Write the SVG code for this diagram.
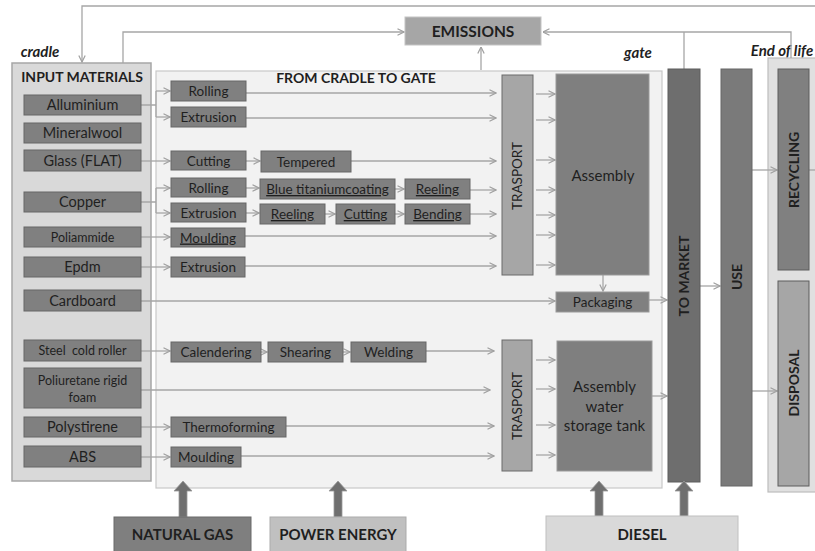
<svg xmlns="http://www.w3.org/2000/svg" width="815" height="551" viewBox="0 0 815 551">
<defs>
<marker id="ah" viewBox="0 0 8 8" refX="7.5" refY="4" markerWidth="8" markerHeight="8" markerUnits="userSpaceOnUse" orient="auto"><path d="M1,0.8 L7.5,4 L1,7.2" fill="none" stroke="#a0a0a0" stroke-width="1.2"/></marker>
</defs>
<style>
.t{font-family:Lato,"Open Sans","DejaVu Sans",sans-serif;fill:#1f1f1f;text-anchor:middle}
.b{font-weight:bold}
.i{font-style:italic;font-weight:bold;font-size:15px}
.m{font-size:14.5px}
.s{font-size:12.5px}
.p{font-size:13.5px}
.u{text-decoration:underline}
.box{fill:#808080;stroke:#666;stroke-width:1}
.c{fill:none;stroke:#a6a6a6;stroke-width:1.3}
.a{marker-end:url(#ah)}
.big{fill:#6f6f6f;stroke:#9a9a9a;stroke-width:0.8}
</style>
<rect width="815" height="551" fill="#fff"/>

<g id="labels">
<text class="t i" x="40" y="57">cradle</text>
<text class="t i" x="638" y="58">gate</text>
<text class="t i" x="782" y="56">End of life</text>
</g>

<g id="input-materials">
<rect x="12" y="63" width="139" height="418" fill="#d9d9d9" stroke="#a6a6a6" stroke-width="1.5"/>
<text class="t b" x="82" y="82" font-size="14">INPUT MATERIALS</text>
</g>
<g id="cradle-to-gate">
<rect x="156" y="71" width="506" height="417" fill="#f2f2f2" stroke="#c8c8c8" stroke-width="1.2"/>
<text class="t b" x="356" y="83" font-size="14">FROM CRADLE TO GATE</text>
</g>
<g id="end-of-life">
<rect x="768" y="58" width="60" height="434" fill="#e0e0e0" stroke="#bdbdbd" stroke-width="1.2"/>
</g>

<g id="connectors">
<path class="c a" d="M815,6 H82 V62"/>
<path class="c a" d="M123,63 V32 H404"/>
<path class="c a" d="M791,58 V32 H543"/>
<path class="c" d="M684,69 V32"/>
<path class="c a" d="M481,70 V47"/>

<path class="c" d="M141,105 H156 M156,91 V117"/>
<path class="c a" d="M156,91 H170"/>
<path class="c a" d="M156,117 H170"/>
<path class="c a" d="M246,93 H496"/>
<path class="c a" d="M246,118 H496"/>

<path class="c a" d="M141,161 H170"/>
<path class="c a" d="M246,161 H260"/>
<path class="c a" d="M351,161 H496"/>

<path class="c" d="M141,202 H156 M156,188 V213"/>
<path class="c a" d="M156,188 H170"/>
<path class="c a" d="M156,213 H170"/>
<path class="c a" d="M246,188 H259"/>
<path class="c a" d="M395,189 H404"/>
<path class="c a" d="M470,190 H496"/>
<path class="c a" d="M246,213 H259"/>
<path class="c a" d="M325,214 H335"/>
<path class="c a" d="M395,214 H404"/>
<path class="c a" d="M470,214 H496"/>

<path class="c a" d="M141,237 H170"/>
<path class="c a" d="M245,236 H496"/>
<path class="c a" d="M141,267 H170"/>
<path class="c a" d="M245,266 H496"/>

<path class="c a" d="M536,94 H555"/>
<path class="c a" d="M536,120 H555"/>
<path class="c a" d="M536,160 H555"/>
<path class="c a" d="M536,190 H555"/>
<path class="c a" d="M536,215 H555"/>
<path class="c a" d="M536,235 H555"/>
<path class="c a" d="M536,265 H555"/>

<path class="c a" d="M603,275 V291"/>
<path class="c a" d="M141,301 H555"/>
<path class="c a" d="M649,300 H667"/>

<path class="c a" d="M141,351 H170"/>
<path class="c a" d="M261,352 H267"/>
<path class="c a" d="M343,352 H350"/>
<path class="c a" d="M426,351 H494"/>
<path class="c a" d="M141,390 H490"/>
<path class="c a" d="M141,427 H170"/>
<path class="c a" d="M286,426 H494"/>
<path class="c a" d="M141,457 H170"/>
<path class="c a" d="M241,456 H494"/>

<path class="c a" d="M536,360 H555"/>
<path class="c a" d="M536,389 H555"/>
<path class="c a" d="M536,425 H555"/>
<path class="c a" d="M536,455 H555"/>
<path class="c a" d="M652,396 H667"/>

<path class="c a" d="M700,286 H720"/>
<path class="c a" d="M752,170 H777"/>
<path class="c a" d="M752,391 H777"/>
<path class="c" d="M809,170 H815"/>
</g>

<g id="emissions">
<rect x="405" y="17" width="136" height="28" fill="#a6a6a6" stroke="#c4c4c4"/>
<text class="t b" x="473" y="37" font-size="15.5">EMISSIONS</text>
</g>

<g id="m-alluminium"><rect class="box" x="24" y="95" width="117" height="20"/><text class="t m" x="82.5" y="110">Alluminium</text></g>
<g id="m-mineralwool"><rect class="box" x="24" y="123" width="117" height="20"/><text class="t m" x="82.5" y="138">Mineralwool</text></g>
<g id="m-glass"><rect class="box" x="24" y="150" width="117" height="21"/><text class="t m" x="82.5" y="165.5">Glass (FLAT)</text></g>
<g id="m-copper"><rect class="box" x="24" y="192" width="117" height="20"/><text class="t m" x="82.5" y="207">Copper</text></g>
<g id="m-poliammide"><rect class="box" x="24" y="227" width="117" height="20"/><text class="t s" x="82.5" y="241.5">Poliammide</text></g>
<g id="m-epdm"><rect class="box" x="24" y="257" width="117" height="20"/><text class="t m" x="82.5" y="272">Epdm</text></g>
<g id="m-cardboard"><rect class="box" x="24" y="290" width="117" height="21"/><text class="t m" x="82.5" y="305.5">Cardboard</text></g>
<g id="m-steel"><rect class="box" x="24" y="340" width="117" height="21"/><text class="t s" x="82.5" y="355" xml:space="preserve">Steel  cold roller</text></g>
<g id="m-poliuretane"><rect class="box" x="24" y="368" width="117" height="40"/><text class="t s" x="82.5" y="384.5">Poliuretane rigid</text><text class="t s" x="82.5" y="401.5">foam</text></g>
<g id="m-polystirene"><rect class="box" x="24" y="417" width="117" height="20"/><text class="t m" x="82.5" y="432">Polystirene</text></g>
<g id="m-abs"><rect class="box" x="24" y="446" width="117" height="21"/><text class="t m" x="82.5" y="461.5">ABS</text></g>

<g id="p-rolling1"><rect class="box" x="171" y="81" width="75" height="20"/><text class="t p" x="208.5" y="96">Rolling</text></g>
<g id="p-extrusion1"><rect class="box" x="171" y="107" width="75" height="20"/><text class="t p" x="208.5" y="122">Extrusion</text></g>
<g id="p-cutting1"><rect class="box" x="171" y="151" width="75" height="19"/><text class="t p" x="208.5" y="165.5">Cutting</text></g>
<g id="p-tempered"><rect class="box" x="261" y="151" width="90" height="21"/><text class="t p" x="306" y="166.5">Tempered</text></g>
<g id="p-rolling2"><rect class="box" x="171" y="178" width="75" height="19"/><text class="t p" x="208.5" y="192.5">Rolling</text></g>
<g id="p-blue"><rect class="box" x="260" y="179" width="135" height="20"/><text class="t p u" x="327.5" y="194">Blue titaniumcoating</text></g>
<g id="p-reeling1"><rect class="box" x="405" y="179" width="65" height="20"/><text class="t p u" x="437.5" y="194">Reeling</text></g>
<g id="p-extrusion2"><rect class="box" x="171" y="203" width="75" height="19"/><text class="t p" x="208.5" y="217.5">Extrusion</text></g>
<g id="p-reeling2"><rect class="box" x="260" y="204" width="65" height="20"/><text class="t p u" x="292.5" y="219">Reeling</text></g>
<g id="p-cutting2"><rect class="box" x="336" y="204" width="59" height="20"/><text class="t p u" x="365.5" y="219">Cutting</text></g>
<g id="p-bending"><rect class="box" x="405" y="204" width="65" height="20"/><text class="t p u" x="437.5" y="219">Bending</text></g>
<g id="p-moulding1"><rect class="box" x="171" y="228" width="74" height="19"/><text class="t p u" x="208" y="242.5">Moulding</text></g>
<g id="p-extrusion3"><rect class="box" x="171" y="257" width="74" height="20"/><text class="t p" x="208" y="272">Extrusion</text></g>
<g id="p-calendering"><rect class="box" x="171" y="342" width="90" height="20"/><text class="t p" x="216" y="357">Calendering</text></g>
<g id="p-shearing"><rect class="box" x="268" y="342" width="75" height="20"/><text class="t p" x="305.5" y="357">Shearing</text></g>
<g id="p-welding"><rect class="box" x="351" y="342" width="75" height="20"/><text class="t p" x="388.5" y="357">Welding</text></g>
<g id="p-thermoforming"><rect class="box" x="171" y="417" width="115" height="20"/><text class="t p" x="228.5" y="432">Thermoforming</text></g>
<g id="p-moulding2"><rect class="box" x="171" y="447" width="70" height="20"/><text class="t p" x="206" y="462">Moulding</text></g>

<g id="trasport1"><rect x="502" y="75" width="31" height="200" fill="#a6a6a6" stroke="#6a6a6a"/><text class="t" font-size="13.5" transform="translate(522,176) rotate(-90)">TRASPORT</text></g>
<g id="trasport2"><rect x="502" y="340" width="30" height="131" fill="#a6a6a6" stroke="#6a6a6a"/><text class="t" font-size="13.5" transform="translate(522,406) rotate(-90)">TRASPORT</text></g>
<g id="assembly"><rect x="556" y="74" width="93" height="201" fill="#7f7f7f" stroke="#9a9a9a"/><text class="t" font-size="15" x="603" y="181">Assembly</text></g>
<g id="packaging"><rect x="556" y="292" width="93" height="20" fill="#808080" stroke="#9a9a9a"/><text class="t p" x="602.5" y="307">Packaging</text></g>
<g id="assembly-tank"><rect x="557" y="341" width="95" height="130" fill="#7f7f7f" stroke="#9a9a9a"/><text class="t" font-size="15" x="604.5" y="392">Assembly</text><text class="t" font-size="15" x="604.5" y="412">water</text><text class="t" font-size="15" x="604.5" y="431">storage tank</text></g>

<g id="to-market"><rect x="668" y="69" width="32" height="413" fill="#6e6e6e" stroke="#5c5c5c"/><text class="t b" font-size="14" transform="translate(689,276) rotate(-90)">TO MARKET</text></g>
<g id="use"><rect x="721" y="69" width="31" height="417" fill="#7a7a7a" stroke="#666"/><text class="t b" font-size="14" transform="translate(741.5,277) rotate(-90)">USE</text></g>
<g id="recycling"><rect x="778" y="69" width="31" height="201" fill="#808080" stroke="#5c5c5c"/><text class="t b" font-size="14" transform="translate(798.5,170) rotate(-90)">RECYCLING</text></g>
<g id="disposal"><rect x="778" y="281" width="31" height="205" fill="#a6a6a6" stroke="#5c5c5c"/><text class="t b" font-size="14" transform="translate(798.5,383) rotate(-90)">DISPOSAL</text></g>

<g id="inputs-arrows">
<path class="big" d="M183,481 L192,491 L187,491 L187,517 L179,517 L179,491 L174,491 Z"/>
<path class="big" d="M338,481 L347,491 L342,491 L342,517 L334,517 L334,491 L329,491 Z"/>
<path class="big" d="M599,481 L608,491 L603,491 L603,517 L595,517 L595,491 L590,491 Z"/>
<path class="big" d="M684,481 L693,491 L688,491 L688,517 L680,517 L680,491 L675,491 Z"/>
</g>
<g id="natural-gas"><rect x="114" y="517" width="137" height="40" fill="#7f7f7f" stroke="#6a6a6a"/><text class="t b" font-size="15" x="182.5" y="540">NATURAL GAS</text></g>
<g id="power-energy"><rect x="270" y="517" width="136" height="40" fill="#c0c0c0" stroke="#ababab"/><text class="t b" font-size="15" x="338" y="540">POWER ENERGY</text></g>
<g id="diesel"><rect x="546" y="516" width="192" height="41" fill="#d9d9d9" stroke="#c0c0c0"/><text class="t b" font-size="15" x="642" y="540">DIESEL</text></g>
</svg>
